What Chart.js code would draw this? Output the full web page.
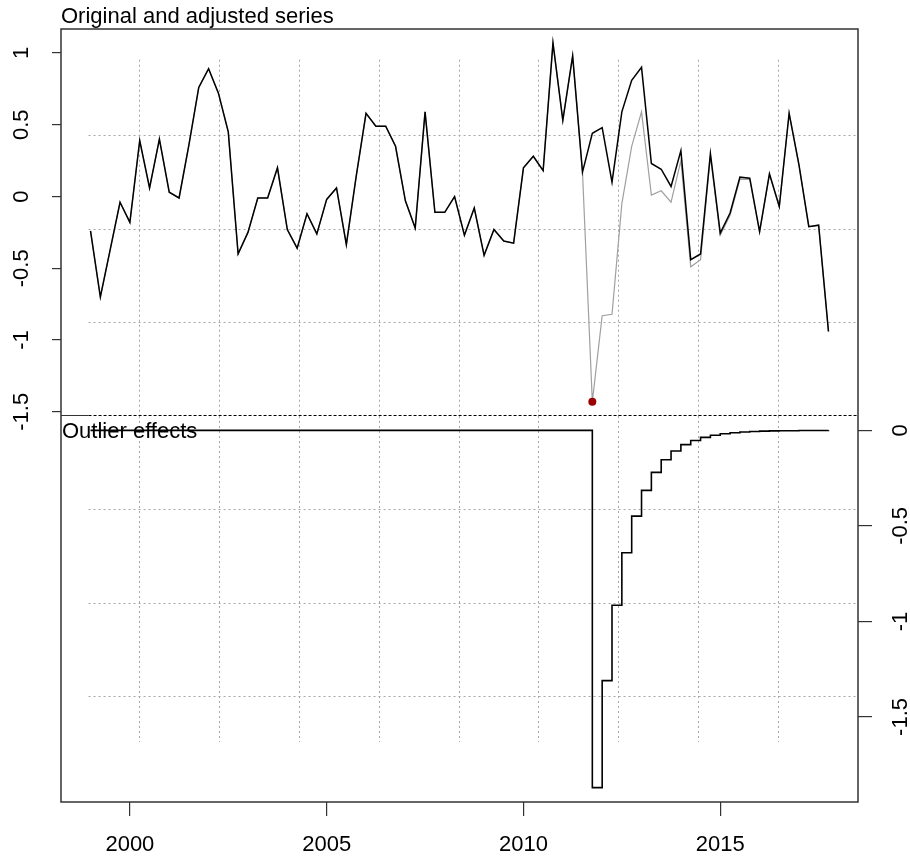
<!DOCTYPE html>
<html>
<head>
<meta charset="utf-8">
<script src="https://cdn.jsdelivr.net/npm/chart.js@4.4.1/dist/chart.umd.min.js"></script>
<style>
body { margin: 0; background: #fff; }
#wrap { position: relative; width: 910px; height: 858px; }
canvas { position: absolute; left: 0; }
#topChart { top: 0; }
#bottomChart { top: 416px; }
</style>
</head>
<body>
<div id="wrap">
  <canvas id="bottomChart" width="910" height="442"></canvas>
  <canvas id="topChart" width="910" height="440"></canvas>
</div>
<script>
// quarterly series, 1999 Q1 - 2017 Q4
const startYear = 1999;
const freq = 4;

const original = [
  -0.24, -0.70, -0.37, -0.04, -0.18, 0.39, 0.06, 0.40, 0.03, -0.01,
  0.36, 0.76, 0.89, 0.72, 0.45, -0.40, -0.25, -0.01, -0.01, 0.20,
  -0.23, -0.36, -0.12, -0.26, -0.02, 0.06, -0.335, 0.14, 0.58, 0.49,
  0.49, 0.35, -0.03, -0.22, 0.59, -0.11, -0.11, 0.00, -0.27, -0.08,
  -0.41, -0.23, -0.31, -0.325, 0.20, 0.28, 0.18, 1.07, 0.53, 0.98,
  0.17, -1.43, -0.83, -0.82, -0.05, 0.35, 0.59, 0.01, 0.04, -0.04,
  0.25, -0.49, -0.44, 0.28, -0.27, -0.13, 0.12, 0.12, -0.25, 0.155,
  -0.072, 0.58, 0.22, -0.21, -0.20, -0.94
];

const adjusted = [
  -0.24, -0.70, -0.37, -0.04, -0.18, 0.39, 0.06, 0.40, 0.03, -0.01,
  0.36, 0.76, 0.89, 0.72, 0.45, -0.40, -0.25, -0.01, -0.01, 0.20,
  -0.23, -0.36, -0.12, -0.26, -0.02, 0.06, -0.335, 0.14, 0.58, 0.49,
  0.49, 0.35, -0.03, -0.22, 0.59, -0.11, -0.11, 0.00, -0.27, -0.08,
  -0.41, -0.23, -0.31, -0.325, 0.20, 0.28, 0.18, 1.07, 0.53, 0.98,
  0.17, 0.44, 0.48, 0.10, 0.59, 0.81, 0.90, 0.23, 0.19, 0.07,
  0.32, -0.44, -0.40, 0.30, -0.255, -0.115, 0.135, 0.128, -0.244, 0.158,
  -0.07, 0.58, 0.22, -0.21, -0.20, -0.94
];

const effects = [
  0, 0, 0, 0, 0, 0, 0, 0, 0, 0,
  0, 0, 0, 0, 0, 0, 0, 0, 0, 0,
  0, 0, 0, 0, 0, 0, 0, 0, 0, 0,
  0, 0, 0, 0, 0, 0, 0, 0, 0, 0,
  0, 0, 0, 0, 0, 0, 0, 0, 0, 0,
  0, -1.87, -1.31, -0.915, -0.641, -0.449, -0.314, -0.220, -0.154, -0.108,
  -0.075, -0.053, -0.037, -0.026, -0.018, -0.013, -0.009, -0.006, -0.004, -0.003,
  -0.002, -0.002, -0.001, -0.001, -0.001, 0
];

const outlierTimes = [2011.75];
const outlierValues = [-1.43];

const topTicks = [-1.5, -1, -0.5, 0, 0.5, 1];
const bottomTicks = [-1.5, -1, -0.5, 0];
const yearTicks = [2000, 2005, 2010, 2015];

// dotted reference grid (as in the R plot)
const gridYears = [2000.24, 2002.27, 2004.3, 2006.33, 2008.35, 2010.38, 2012.41, 2014.44, 2016.46];
const topGridLevels = [0.43, -0.228, -0.874];
const bottomGridLevels = [-0.413, -0.901, -1.391];

const FONT = '"Liberation Sans", Arial, sans-serif';
const times = adjusted.map((v, i) => startYear + i / freq);
function pts(values) {
  return values.map((v, i) => ({ x: times[i], y: v }));
}

// keep the chart area where the R panels are: no extra room for end labels
function noEdgePadding(s) {
  s.paddingTop = 0;
  s.paddingBottom = 0;
  s.paddingLeft = 0;
  s.paddingRight = 0;
}

function gridPlugin(levels, vFrom, vTo) {
  return {
    id: 'rgrid',
    beforeDatasetsDraw(chart) {
      const { ctx, chartArea: a, scales: { x, y } } = chart;
      ctx.save();
      ctx.strokeStyle = '#a6a6a6';
      ctx.lineWidth = 1;
      ctx.setLineDash([2, 3]);
      const x0 = x.getPixelForValue(1998.95);
      levels.forEach(function (v) {
        const py = Math.round(y.getPixelForValue(v)) + 0.5;
        ctx.beginPath();
        ctx.moveTo(x0, py);
        ctx.lineTo(a.right, py);
        ctx.stroke();
      });
      const y1 = y.getPixelForValue(vFrom);
      const y2 = y.getPixelForValue(vTo);
      gridYears.forEach(function (g) {
        const px = Math.round(x.getPixelForValue(g)) + 0.5;
        ctx.beginPath();
        ctx.moveTo(px, y1);
        ctx.lineTo(px, y2);
        ctx.stroke();
      });
      ctx.restore();
    }
  };
}

const topBox = {
  id: 'topBox',
  afterDraw(chart) {
    const { ctx, chartArea: a, scales: { x } } = chart;
    ctx.save();
    ctx.strokeStyle = '#333';
    ctx.lineWidth = 1.5;
    ctx.beginPath();
    ctx.moveTo(a.left, a.bottom);
    ctx.lineTo(a.left, a.top);
    ctx.lineTo(a.right, a.top);
    ctx.lineTo(a.right, a.bottom);
    ctx.stroke();
    const x0 = x.getPixelForValue(1998.95);
    ctx.lineWidth = 1;
    ctx.beginPath();
    ctx.moveTo(a.left, a.bottom - 0.5);
    ctx.lineTo(x0, a.bottom - 0.5);
    ctx.stroke();
    ctx.strokeStyle = '#000';
    ctx.setLineDash([3, 2]);
    ctx.beginPath();
    ctx.moveTo(x0, a.bottom - 0.5);
    ctx.lineTo(a.right, a.bottom - 0.5);
    ctx.stroke();
    ctx.restore();
  }
};

const bottomBox = {
  id: 'bottomBox',
  beforeDatasetsDraw(chart) {
    const { ctx, chartArea: a } = chart;
    ctx.save();
    ctx.fillStyle = '#000';
    ctx.font = '22px ' + FONT;
    ctx.textBaseline = 'alphabetic';
    ctx.fillText('Outlier effects', a.left + 1, a.top + 22);
    ctx.restore();
  },
  afterDraw(chart) {
    const { ctx, chartArea: a } = chart;
    ctx.save();
    ctx.strokeStyle = '#333';
    ctx.lineWidth = 1.5;
    ctx.beginPath();
    ctx.moveTo(a.left, a.top);
    ctx.lineTo(a.left, a.bottom);
    ctx.lineTo(a.right, a.bottom);
    ctx.lineTo(a.right, a.top);
    ctx.stroke();
    ctx.restore();
  }
};

function tickFont() {
  return { family: FONT, size: 22, weight: 'normal' };
}

new Chart(document.getElementById('topChart'), {
  type: 'line',
  data: {
    datasets: [
      { label: 'Outlier', data: outlierTimes.map((t, i) => ({ x: t, y: outlierValues[i] })),
        showLine: false, pointRadius: 4, pointBackgroundColor: '#990000', pointBorderColor: '#990000', pointBorderWidth: 0, order: 0 },
      { label: 'Adjusted', data: pts(adjusted), borderColor: '#000', borderWidth: 1.5,
        pointRadius: 0, tension: 0, order: 1 },
      { label: 'Original', data: pts(original), borderColor: '#a0a0a0', borderWidth: 1.2,
        pointRadius: 0, tension: 0, order: 2 }
    ]
  },
  options: {
    responsive: false,
    animation: false,
    devicePixelRatio: 1,
    layout: { padding: { left: 0, right: 52, top: 0, bottom: 24 } },
    plugins: {
      legend: { display: false },
      tooltip: { enabled: false },
      title: {
        display: true,
        text: 'Original and adjusted series',
        align: 'start',
        fullSize: false,
        color: '#000',
        font: { family: FONT, size: 22, weight: 'normal', lineHeight: 1 },
        padding: { top: 6, bottom: 1 }
      }
    },
    scales: {
      x: { type: 'linear', min: 1998.25, max: 2018.5, display: false, afterFit: noEdgePadding },
      y: {
        type: 'linear',
        position: 'left',
        min: -1.529,
        max: 1.167,
        afterFit(s) { s.width = 61; noEdgePadding(s); },
        afterBuildTicks(s) { s.ticks = topTicks.map(v => ({ value: v })); },
        border: { display: false },
        grid: { drawOnChartArea: false, drawTicks: true, tickLength: 9, color: '#333', lineWidth: 1.2 },
        ticks: {
          minRotation: 90, maxRotation: 90, crossAlign: 'center', padding: 11,
          color: '#000', font: tickFont(), callback: v => String(v)
        }
      }
    }
  },
  plugins: [gridPlugin(topGridLevels, 0.953, -1.529), topBox]
});

new Chart(document.getElementById('bottomChart'), {
  type: 'line',
  data: {
    datasets: [
      { label: 'Outlier effects', data: pts(effects), borderColor: '#000', borderWidth: 1.6,
        pointRadius: 0, stepped: 'before' }
    ]
  },
  options: {
    responsive: false,
    animation: false,
    devicePixelRatio: 1,
    layout: { padding: { left: 61, right: 0, top: 0, bottom: 0 } },
    plugins: { legend: { display: false }, tooltip: { enabled: false } },
    scales: {
      x: {
        type: 'linear',
        position: 'bottom',
        min: 1998.25,
        max: 2018.5,
        afterFit(s) { s.height = 56; noEdgePadding(s); },
        afterBuildTicks(s) { s.ticks = yearTicks.map(v => ({ value: v })); },
        border: { display: false },
        grid: { drawOnChartArea: false, drawTicks: true, tickLength: 14, color: '#333', lineWidth: 1.2 },
        ticks: {
          autoSkip: false, minRotation: 0, maxRotation: 0, padding: 16,
          color: '#000', font: tickFont(), callback: v => String(v)
        }
      },
      y: {
        type: 'linear',
        position: 'right',
        min: -1.945,
        max: 0.075,
        afterFit(s) { s.width = 52; noEdgePadding(s); },
        afterBuildTicks(s) { s.ticks = bottomTicks.map(v => ({ value: v })); },
        border: { display: false },
        grid: { drawOnChartArea: false, drawTicks: true, tickLength: 14, color: '#333', lineWidth: 1.2 },
        ticks: {
          minRotation: 90, maxRotation: 90, crossAlign: 'center', padding: 10,
          color: '#000', font: tickFont(), callback: v => String(v)
        }
      }
    }
  },
  plugins: [gridPlugin(bottomGridLevels, 0.075, -1.631), bottomBox]
});
</script>
</body>
</html>
